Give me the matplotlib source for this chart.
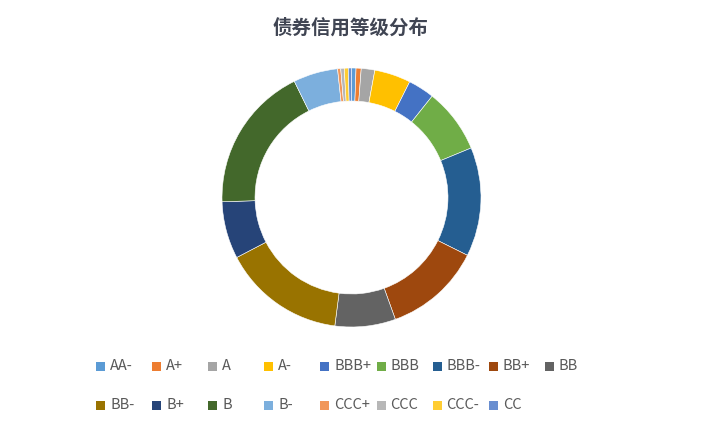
import matplotlib
matplotlib.use("Agg")
import matplotlib.pyplot as plt
from matplotlib.patches import Rectangle

plt.rcParams['font.family'] = ['Noto Sans CJK SC', 'DejaVu Sans']

ratings = ['AA-', 'A+', 'A', 'A-', 'BBB+', 'BBB', 'BBB-', 'BB+', 'BB',
           'BB-', 'B+', 'B', 'B-', 'CCC+', 'CCC', 'CCC-', 'CC']
shares = [0.56, 0.64, 1.69, 4.53, 3.28, 8.06, 13.61, 12.14, 7.56,
          15.28, 7.14, 18.25, 5.56, 0.39, 0.44, 0.50, 0.39]
colors = ['#5B9BD5', '#ED7D31', '#A5A5A5', '#FFC000', '#4472C4', '#70AD47',
          '#255E91', '#9E480E', '#636363', '#997300', '#264478', '#43682B',
          '#7CAFDD', '#F1975A', '#B7B7B7', '#FFCD33', '#698ED0']
title = '债券信用等级分布'

W, H = 704, 421
fig = plt.figure(figsize=(W / 100, H / 100), dpi=100)
fig.patch.set_facecolor('white')

# donut, centre (351.5, 197.5) px, outer radius 129.5 px
cx, cy, r = 351.5, 197.5, 129.5
ax = fig.add_axes([(cx - r) / W, (H - cy - r) / H, 2 * r / W, 2 * r / H])
ax.pie(shares, colors=colors, startangle=90, counterclock=False,
       radius=1.0, wedgeprops=dict(width=0.255, edgecolor='white', linewidth=0.4))
ax.set_xlim(-1, 1)
ax.set_ylim(-1, 1)
ax.set_aspect('equal')
ax.axis('off')

fig.text(351 / W, 1 - 28 / H, title, ha='center', va='center',
         fontsize=14, fontweight='bold', color='#404553')

# legend, 9 slots per row
x0, step = 96, 56.1
rows_y = [366.5, 405]
for i, (lab, col) in enumerate(zip(ratings, colors)):
    row, c = divmod(i, 9)
    mx = x0 + c * step
    my = rows_y[row]
    fig.patches.append(Rectangle((mx / W, 1 - (my + 4.5) / H), 9 / W, 9 / H,
                                 transform=fig.transFigure, facecolor=col,
                                 edgecolor='none'))
    fig.text((mx + 14) / W, 1 - my / H, lab, ha='left', va='center',
             fontsize=10.5, color='#595959')

plt.savefig('out.png', dpi=100)
